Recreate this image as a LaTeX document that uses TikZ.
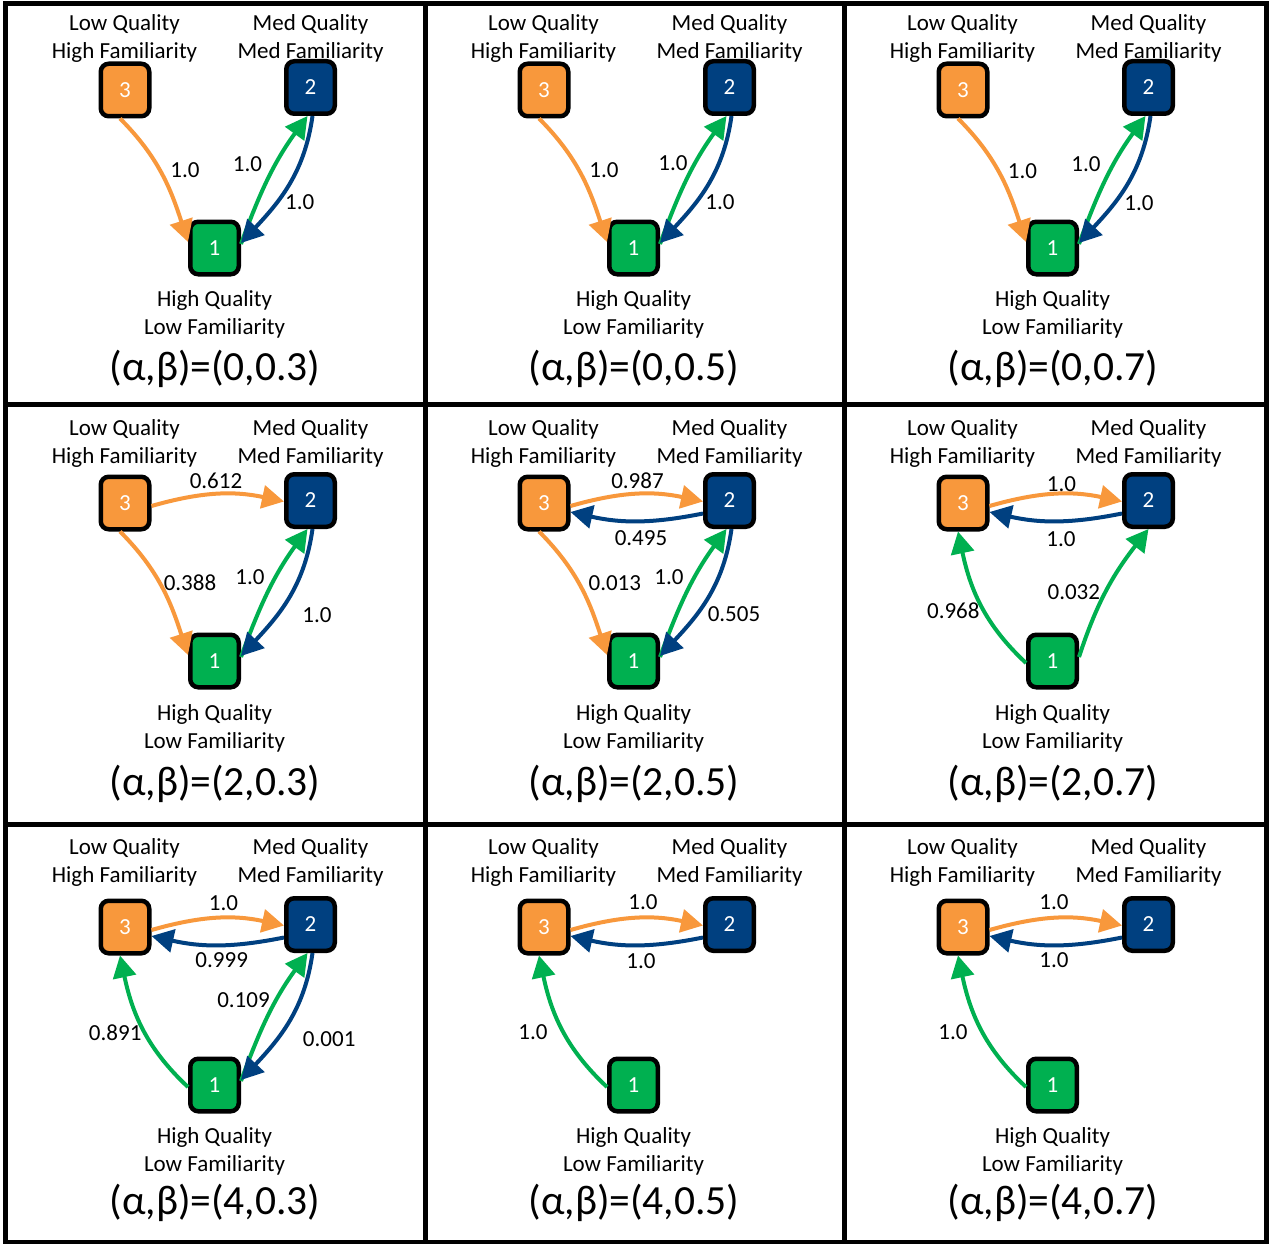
\documentclass[tikz,border=0pt]{standalone}
\usepackage{fontspec}
\setmainfont{Carlito}
\usetikzlibrary{arrows.meta}
\definecolor{qorange}{RGB}{248,152,60}
\definecolor{qblue}{RGB}{0,64,128}
\definecolor{qgreen}{RGB}{0,176,80}
\tikzset{
 state/.style={draw=black, line width=4.5pt, rounded corners=8pt, minimum width=48.5pt, minimum height=52.5pt, inner sep=0pt, text=white, font=\fontsize{23}{28}\selectfont},
 lbl/.style={font=\fontsize{23}{28}\selectfont, align=center, inner sep=0pt},
 num/.style={font=\fontsize{23}{28}\selectfont, inner sep=0pt},
 ttl/.style={font=\fontsize{41.5}{50}\selectfont, inner sep=0pt, anchor=base},
 arr/.style={line width=4pt, -{Triangle[length=22pt,width=23pt]}},
 frame/.style={line width=5pt, draw=black}
}
\newcommand\qpanel[7]{%
 \node[state,fill=qorange] (#1n3) at ({125+#2},{-90-#3}) {3};
 \node[state,fill=qblue] (#1n2) at ({310.5+#2},{-87.5-#3}) {2};
 \node[state,fill=qgreen] (#1n1) at ({214.5+#2},{-248-#3}) {1};
 \node[lbl] (#1t3) at ({124.5+#2},{-38.75-#4}) {Low Quality\\High Familiarity};
 \node[lbl] (#1t2) at ({310.5+#2},{-38.75-#4}) {Med Quality\\Med Familiarity};
 \node[lbl] (#1t1) at ({214.5+#2},{-314.85-#5}) {High Quality\\Low Familiarity};
 \node[ttl] (#1tt) at ({215+#2},{-#6}) {#7};
}
% 3 -> 1
\newcommand\eTO[1]{\draw[arr,qorange] ([xshift=-5pt]#1n3.south) to[out=-45,in=108] ([yshift=6pt]#1n1.west);}
% 1 -> 2 (paired with 2 -> 1)
\newcommand\eLG[1]{\draw[arr,qgreen] ([yshift=4pt]#1n1.east) to[out=70,in=-126] ([xshift=-3pt]#1n2.south);}
% 2 -> 1
\newcommand\eLB[1]{\draw[arr,qblue] ([xshift=2pt]#1n2.south) to[out=-98,in=47] ([yshift=5pt]#1n1.east);}
% 3 -> 2
\newcommand\eTT[1]{\draw[arr,qorange] ([yshift=-3pt]#1n3.east) to[bend left=14] ([yshift=-1pt]#1n2.west);}
% 2 -> 3
\newcommand\eBT[1]{\draw[arr,qblue] ([yshift=-13pt]#1n2.west) to[bend left=12] ([yshift=-9pt]#1n3.east);}
% 1 -> 3
\newcommand\eGT[1]{\draw[arr,qgreen] ([yshift=-2pt]#1n1.west) to[out=137,in=-78] ([xshift=-5pt]#1n3.south);}
% 1 -> 2 (single)
\newcommand\eGS[1]{\draw[arr,qgreen] ([yshift=4pt]#1n1.east) to[out=72,in=-128] (#1n2.south);}
\begin{document}
\begin{tikzpicture}[x=1pt,y=1pt]
\useasboundingbox (0,0) rectangle (1269,-1244);
\fill[white] (0,0) rectangle (1269,-1244);
\draw[frame] (5,-3.5) rectangle (1266,-1242.5);
\draw[frame] (425,-3.5) -- (425,-1242.5) (844.5,-3.5) -- (844.5,-1242.5)
  (5,-404.5) -- (1266,-404.5) (5,-824) -- (1266,-824);

\qpanel{a}{0}{0}{0}{0}{380}{(α,β)=(0,0.3)}
\qpanel{b}{419}{0}{0}{0}{380}{(α,β)=(0,0.5)}
\qpanel{c}{838}{0}{0}{0}{380}{(α,β)=(0,0.7)}
\qpanel{d}{0}{413}{404.5}{414}{795}{(α,β)=(2,0.3)}
\qpanel{e}{419}{413}{404.5}{414}{795}{(α,β)=(2,0.5)}
\qpanel{f}{838}{413}{404.5}{414}{795}{(α,β)=(2,0.7)}
\qpanel{g}{0}{837}{824}{836.6}{1214}{(α,β)=(4,0.3)}
\qpanel{h}{419}{837}{824}{836.6}{1214}{(α,β)=(4,0.5)}
\qpanel{i}{838}{837}{824}{836.6}{1214}{(α,β)=(4,0.7)}

% panel a
\eTO{a}\eLG{a}\eLB{a}
\node[num] (al31) at (185,-170) {1.0};
\node[num] (al12) at (247.5,-163.7) {1.0};
\node[num] (al21) at (299.7,-202.2) {1.0};
% panel b
\eTO{b}\eLG{b}\eLB{b}
\node[num] (bl31) at (604,-170) {1.0};
\node[num] (bl12) at (673,-163) {1.0};
\node[num] (bl21) at (720,-202) {1.0};
% panel c
\eTO{c}\eLG{c}\eLB{c}
\node[num] (cl31) at (1022.5,-171) {1.0};
\node[num] (cl12) at (1086,-164) {1.0};
\node[num] (cl21) at (1139,-203) {1.0};
% panel d
\eTT{d}\eTO{d}\eLG{d}\eLB{d}
\node[num] (dl32) at (216,-480.5) {0.612};
\node[num] (dl31) at (190,-583) {0.388};
\node[num] (dl12) at (250,-577) {1.0};
\node[num] (dl21) at (317,-615) {1.0};
% panel e
\eTT{e}\eBT{e}\eTO{e}\eLG{e}\eLB{e}
\node[num] (el32) at (637.5,-480.7) {0.987};
\node[num] (el23) at (641,-538.3) {0.495};
\node[num] (el31) at (614.8,-583) {0.013};
\node[num] (el12) at (669,-577) {1.0};
\node[num] (el21) at (734,-614.5) {0.505};
% panel f
\eTT{f}\eBT{f}\eGT{f}\eGS{f}
\node[num] (fl32) at (1061.5,-483.7) {1.0};
\node[num] (fl23) at (1061,-539) {1.0};
\node[num] (fl13) at (953.3,-610.3) {0.968};
\node[num] (fl12) at (1073.8,-592) {0.032};
% panel g
\eTT{g}\eBT{g}\eGT{g}\eLG{g}\eLB{g}
\node[num] (gl32) at (223.5,-903) {1.0};
\node[num] (gl23) at (221.7,-960.3) {0.999};
\node[num] (gl12) at (243.5,-999.7) {0.109};
\node[num] (gl13) at (115.2,-1033) {0.891};
\node[num] (gl21) at (329.2,-1039.5) {0.001};
% panel h
\eTT{h}\eBT{h}\eGT{h}
\node[num] (hl32) at (643,-902) {1.0};
\node[num] (hl23) at (641,-961) {1.0};
\node[num] (hl13) at (533,-1032) {1.0};
% panel i
\eTT{i}\eBT{i}\eGT{i}
\node[num] (il32) at (1054,-902) {1.0};
\node[num] (il23) at (1054,-960) {1.0};
\node[num] (il13) at (953,-1032) {1.0};
\end{tikzpicture}
\end{document}
